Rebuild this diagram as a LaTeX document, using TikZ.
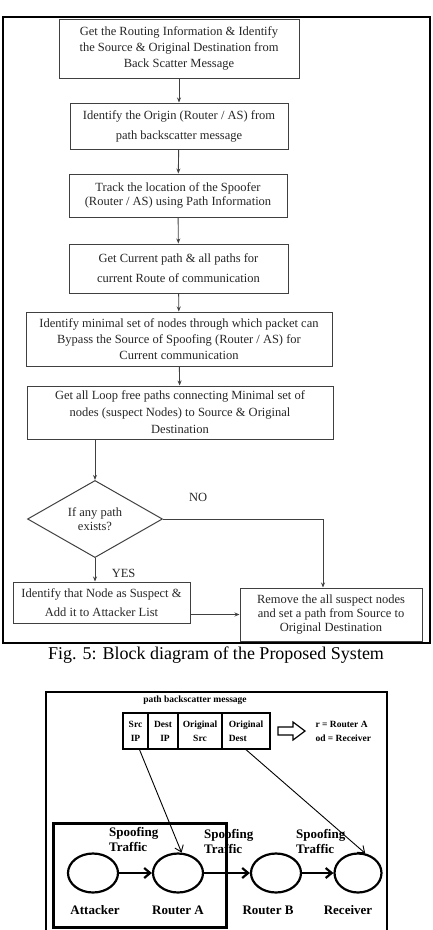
\documentclass[tikz,border=0pt]{standalone}
\usepackage{fontspec}
\setmainfont{Liberation Serif}
\usetikzlibrary{shapes.geometric,arrows.meta}
\begin{document}
\begin{tikzpicture}[x=1pt,y=-1pt,
    procbox/.style={draw=black!75,line width=1pt,inner sep=0pt,align=center,text=black!85,font=\fontsize{12.5}{16}\selectfont},
    flow/.style={draw=black!75,line width=0.9pt,-{Stealth[length=5pt,width=4pt]}},
    tag/.style={text=black!85,font=\fontsize{12.5}{14}\selectfont},
    field/.style={draw,line width=1.3pt,inner sep=0pt,minimum height=36pt,align=center,font=\bfseries\fontsize{9.5}{14}\selectfont},
    router/.style={draw,ellipse,line width=2.2pt,minimum width=50pt,minimum height=39pt},
    lbl/.style={font=\bfseries\fontsize{13}{15}\selectfont},
    thinarr/.style={line width=0.9pt,-{Straight Barb[length=6pt,width=9pt]}},
    thickarr/.style={line width=2.2pt,-{Straight Barb[length=6pt,width=10pt]}}]
    \useasboundingbox (0,0) rectangle (432,930);
    %frame
    \draw[line width=1.5pt] (3,17) rectangle (430,643);
    %steps
    \node[procbox,minimum width=240pt,minimum height=59pt] (getinfo) at (179,48.5)
        {Get the Routing Information \& Identify\\the Source \& Original Destination from\\Back Scatter Message};
    \node[procbox,minimum width=218pt,minimum height=46pt,font=\fontsize{12.5}{20}\selectfont] (origin) at (179,126)
        {Identify the Origin (Router / AS) from\\path backscatter message};
    \node[procbox,minimum width=218pt,minimum height=43pt,font=\fontsize{12.5}{14}\selectfont] (track) at (178,195.5)
        {Track the location of the Spoofer\\(Router / AS) using Path Information};
    \node[procbox,minimum width=219pt,minimum height=49pt,font=\fontsize{12.5}{20}\selectfont] (curpath) at (178.5,268.5)
        {Get Current path \& all paths for\\current Route of communication};
    \node[procbox,minimum width=306pt,minimum height=54pt] (minset) at (179,339)
        {Identify minimal set of nodes through which packet can\\Bypass the Source of Spoofing (Router / AS) for\\Current communication};
    \node[procbox,minimum width=306pt,minimum height=53pt,font=\fontsize{12.5}{17}\selectfont] (loopfree) at (180,412.5)
        {Get all Loop free paths connecting Minimal set of\\nodes (suspect Nodes) to Source \& Original\\Destination};
    \node[procbox,diamond,minimum width=135pt,minimum height=69pt,font=\fontsize{12.5}{14}\selectfont] (anypath) at (95,519)
        {If any path\\exists?};
    \node[procbox,minimum width=177pt,minimum height=41pt,font=\fontsize{12.5}{19}\selectfont] (suspect) at (101.5,602.5)
        {Identify that Node as Suspect \&\\Add it to Attacker List};
    \node[procbox,minimum width=182pt,minimum height=53pt,font=\fontsize{12.5}{14}\selectfont] (remove) at (331,614.5)
        {Remove the all suspect nodes\\and set a path from Source to\\Original Destination};
    %links
    \draw[flow] (getinfo) -- (origin);
    \draw[flow] (origin) -- (track);
    \draw[flow] (track) -- (curpath);
    \draw[flow] (curpath) -- (minset);
    \draw[flow] (minset) -- (loopfree);
    \draw[flow] (anypath.north |- loopfree.south) -- (anypath.north);
    \draw[flow] (anypath.east) -| ([xshift=-8pt]remove.north) node[tag,pos=0.11,above=14pt] (no) {NO};
    \draw[flow] (anypath.south) -- (anypath.south |- suspect.north) node[tag,midway,right=13pt,yshift=-4pt] (yes) {YES};
    \draw[flow] (suspect.east |- remove.west) -- (remove.west);
    \node[font=\fontsize{18}{20}\selectfont] (caption) at (216,655) {Fig. 5: Block diagram of the Proposed System};
    %second figure
    \draw[line width=1.2pt] (46,935) |- (387,692) -- (387,935);
    \node[font=\bfseries\fontsize{9.5}{11}\selectfont] (msgtitle) at (195,700) {path backscatter message};
    \node[field,minimum width=25pt] (srcip) at (135.5,731) {Src\\IP};
    \node[field,minimum width=30pt] (dstip) at (163,731) {Dest\\\hspace{4pt}IP};
    \node[field,minimum width=44pt] (origsrc) at (200,731) {Original\\Src};
    \node[field,minimum width=48pt,align=left] (origdst) at (246,731) {Original\\Dest};
    \draw[line width=1.2pt] (278,727) -- ++(15,0) -- ++(0,-5) -- (305,731) -- (293,740) -- ++(0,-5) -- (278,735) -- cycle;
    \node[anchor=west,align=left,font=\bfseries\fontsize{9.5}{14}\selectfont] (legend) at (312,731) {r = Router A\\od = Receiver};
    %routers
    \node[router] (attacker) at (93,873) {};
    \node[router] (routera) at (178,873) {};
    \node[router] (routerb) at (276,873) {};
    \node[router,minimum width=47pt] (receiver) at (358,873) {};
    \node[lbl] (attackerlbl) at (95,910) {Attacker};
    \node[lbl] (routeralbl) at (178,910) {Router A};
    \node[lbl] (routerblbl) at (268,910) {Router B};
    \node[lbl] (receiverlbl) at (348,910) {Receiver};
    \node[lbl,anchor=north west,align=left,inner sep=0pt] (spoofa) at (109,827) {Spoofing\\Traffic};
    \node[lbl,anchor=north west,align=left,inner sep=0pt] (spoofb) at (204,829) {Spoofing\\Traffic};
    \node[lbl,anchor=north west,align=left,inner sep=0pt] (spoofc) at (296,829) {Spoofing\\Traffic};
    \draw[thickarr] (attacker) -- (routera);
    \draw[thickarr] (routera) -- (routerb);
    \draw[thickarr] (routerb) -- (receiver);
    \draw[thinarr] ([xshift=4pt]srcip.south) -- (routera.80);
    \draw[thinarr] (origdst.south) -- (receiver.70);
    \draw[line width=3pt] (53,823) rectangle (226,927);
\end{tikzpicture}
\end{document}
